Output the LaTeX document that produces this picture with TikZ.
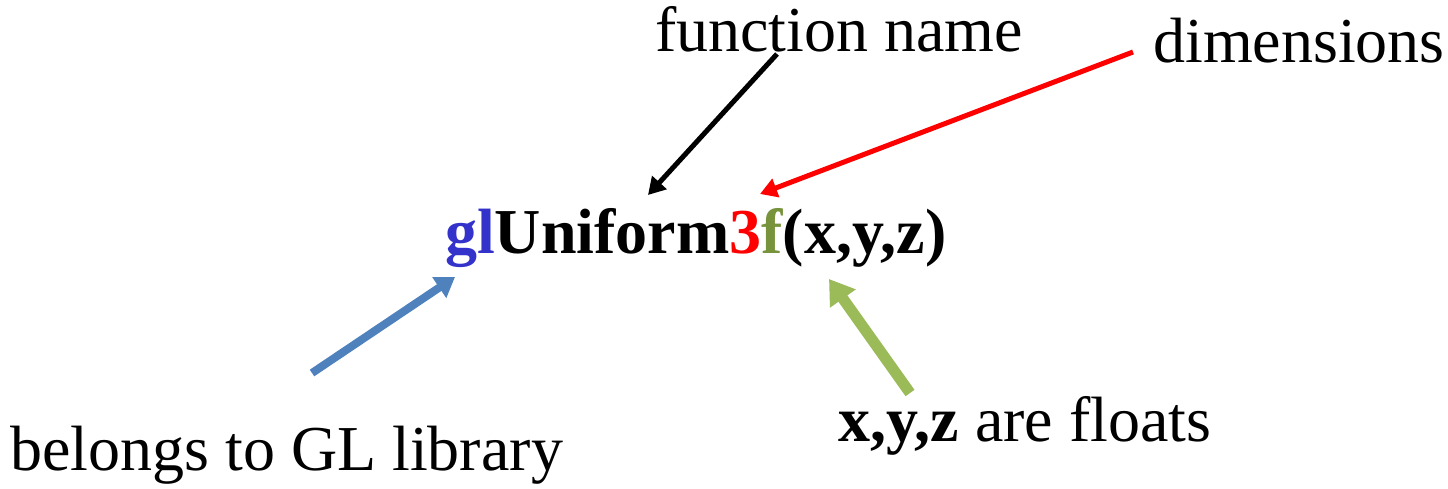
\documentclass[tikz,border=0pt]{standalone}
\usepackage{fontspec}
\setmainfont{Liberation Serif}
\usetikzlibrary{arrows.meta}
\definecolor{glblue}{RGB}{51,51,204}
\definecolor{fgreen}{RGB}{119,147,60}
\definecolor{arrblue}{RGB}{79,129,189}
\definecolor{arrgreen}{RGB}{155,187,89}
\definecolor{arrred}{RGB}{255,0,0}
\tikzset{
  lbl/.style={inner sep=0pt, anchor=base west, font=\fontsize{64}{64}\selectfont},
  pointer/.style={line cap=butt}
}
\begin{document}
\begin{tikzpicture}[x=1pt,y=-1pt]
\useasboundingbox (0,0) rectangle (1448,489);
% labels
\node[lbl] (fn)   at (655,52)  {function name};
\node[lbl] (dim)  at (1153,63) {dimensions};
\node[lbl] (call) at (445,253) {\bfseries\textcolor{glblue}{gl}Uniform\textcolor{arrred}{3}\textcolor{fgreen}{f}(x,y,z)};
\node[lbl] (flt)  at (838,441) {\textbf{x,y,z} are floats};
\node[lbl] (lib)  at (10,470)  {belongs to GL library};
% arrow ends
\coordinate (fnS)  at (777,54);
\coordinate (fnE)  at (648,195);
\coordinate (dimS) at (1133,52);
\coordinate (dimE) at (760,194);
\coordinate (libS) at (312,373);
\coordinate (libE) at (455,277);
\coordinate (fltS) at (910,393);
\coordinate (fltE) at (829,279);
% pointers
\draw[pointer, line width=5pt, black, -{Triangle[width=19pt,length=17pt]}] (fnS) -- (fnE);
\draw[pointer, line width=5pt, arrred, -{Triangle[width=19pt,length=17pt]}] (dimS) -- (dimE);
\draw[pointer, line width=8pt, arrblue, -{Triangle[width=24pt,length=19pt]}] (libS) -- (libE);
\draw[pointer, line width=11pt, arrgreen, -{Triangle[width=30pt,length=24pt]}] (fltS) -- (fltE);
\end{tikzpicture}
\end{document}
